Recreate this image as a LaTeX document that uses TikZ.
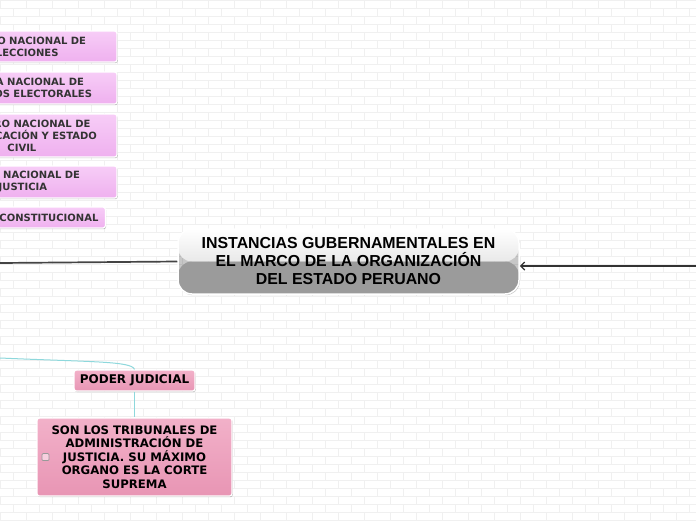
\documentclass[tikz,border=0pt]{standalone}
\usepackage{fontspec}
\usetikzlibrary{arrows.meta,shadows,calc}
\newfontfamily\dvs{DejaVu Sans}
\newfontfamily\lib{Liberation Sans}
\newcommand\pinkfnt{\dvs\bfseries\fontsize{10}{12}\selectfont}
\newcommand\pjfnt{\dvs\bfseries\fontsize{12}{13.5}\selectfont}
\newcommand\sonfnt{\dvs\bfseries\fontsize{11.7}{13.5}\selectfont}
\newcommand\mainfnt{\lib\bfseries\fontsize{15.9}{18}\selectfont}
\definecolor{liltop}{HTML}{F7CDF7}
\definecolor{lilbot}{HTML}{EFB0EF}
\definecolor{pktop}{HTML}{F2B1C9}
\definecolor{pkbot}{HTML}{E895B4}
\definecolor{txtgray}{HTML}{333333}
\definecolor{linegray}{HTML}{444444}
\definecolor{cyanline}{HTML}{8ED8DC}
\definecolor{midgray}{HTML}{9B9B9B}
\definecolor{lightgray2}{HTML}{D3D3D3}
\definecolor{brickline}{HTML}{F0F0F0}
\newlength\wA \newlength\wB \newlength\wC \newlength\wD
\begin{document}
\settowidth\wA{\pinkfnt JURADO NACIONAL DE}%
\settowidth\wB{\pinkfnt PROCESOS ELECTORALES}%
\settowidth\wC{\pinkfnt IDENTIFICACIÓN Y ESTADO}%
\settowidth\wD{\pinkfnt JUNTA NACIONAL DE}%
\begin{tikzpicture}[x=1pt,y=-1pt,
  softshadow/.style={drop shadow={shadow xshift=0.8pt,shadow yshift=-1.2pt,fill=black,opacity=0.22}},
  pinkbox/.style={draw=white,line width=1.2pt,rounded corners=2.5pt,top color=liltop,bottom color=lilbot,font=\pinkfnt,text=txtgray,align=center,inner sep=0pt,softshadow},
  pjbox/.style={draw=white,line width=1.2pt,rounded corners=2.5pt,top color=pktop,bottom color=pkbot,font=\pjfnt,text=black,align=center,inner sep=0pt,softshadow},
  brick/.style={draw=brickline,line width=0.6pt},
  conn/.style={draw=linegray,line width=1.7pt},
  cyanconn/.style={draw=cyanline,line width=1pt}]
\pgfmathsetmacro\cA{86-0.5*\wA}\pgfmathsetmacro\mA{2*(117-\cA)}
\pgfmathsetmacro\cB{92-0.5*\wB}\pgfmathsetmacro\mB{2*(117-\cB)}
\pgfmathsetmacro\cC{97-0.5*\wC}\pgfmathsetmacro\mC{2*(117-\cC)}
\pgfmathsetmacro\cD{80-0.5*\wD}\pgfmathsetmacro\mD{2*(117-\cD)}
\useasboundingbox (0,0) rectangle (696,520);
\clip (0,0) rectangle (696,520);
\fill[white] (0,0) rectangle (696,520);
\foreach \r in {0,...,65} {
  \draw[brick] (0,\r*8) -- (696,\r*8);
  \pgfmathsetmacro\off{mod(\r,2)*13}
  \foreach \c in {-1,...,27} \draw[brick] ({\off+\c*26},\r*8) -- ({\off+\c*26},\r*8+8);
}
% left column boxes
\node[pinkbox,minimum width=\mA pt,minimum height=31pt] (jne) at (\cA,46.5) {JURADO NACIONAL DE\\ELECCIONES};
\node[pinkbox,minimum width=\mB pt,minimum height=32pt] (onpe) at (\cB,88) {OFICINA NACIONAL DE\\PROCESOS ELECTORALES};
\node[pinkbox,minimum width=\mC pt,minimum height=43pt] (reniec) at (\cC,135.5) {REGISTRO NACIONAL DE\\IDENTIFICACIÓN Y ESTADO\\CIVIL};
\node[pinkbox,minimum width=\mD pt,minimum height=32pt] (jnj) at (\cD,182) {JUNTA NACIONAL DE\\JUSTICIA};
\node[pinkbox,anchor=east,minimum height=21pt,inner xsep=7pt] (tc) at (106,217.5) {TRIBUNAL CONSTITUCIONAL};
% central node
\node[draw=white,line width=1.5pt,rounded corners=14pt,minimum width=341pt,minimum height=65pt,
  font=\mainfnt,text=black,align=center,softshadow,
  path picture={
    \shade[top color=white,bottom color=lightgray2] (path picture bounding box.north west) rectangle (path picture bounding box.east);
    \fill[midgray] (path picture bounding box.west) rectangle (path picture bounding box.south east);
  }] (main) at (348.5,261.5) {INSTANCIAS GUBERNAMENTALES EN\\EL MARCO DE LA ORGANIZACIÓN\\DEL ESTADO PERUANO};
% connectors to main
\coordinate (lend) at (0,263);
\coordinate (rend) at (696,266);
\draw[conn] (lend) -- (main.west);
\draw[conn,-{Straight Barb[length=4pt,width=8pt,line width=1.4pt]},draw=black!80] (rend) -- (main.east |- rend);
% poder judicial
\node[pjbox,minimum width=121pt,minimum height=21pt] (pj) at (134.5,380.5) {PODER JUDICIAL};
\node[pjbox,font=\sonfnt,minimum width=195pt,minimum height=78pt] (son) at (134.5,457) {SON LOS TRIBUNALES DE\\ADMINISTRACIÓN DE\\JUSTICIA. SU MÁXIMO\\ORGANO ES LA CORTE\\SUPREMA};
\node[draw=gray!80,fill=pktop!60,rounded corners=1pt,minimum size=7pt,inner sep=0pt,line width=0.7pt] (icon) at (45.5,457) {};
\coordinate (cstart) at (0,358);
\draw[cyanconn] (cstart) .. controls (90,362) and (132,361) .. (pj.north);
\draw[cyanconn] (pj.south) -- (son.north);
\end{tikzpicture}
\end{document}
